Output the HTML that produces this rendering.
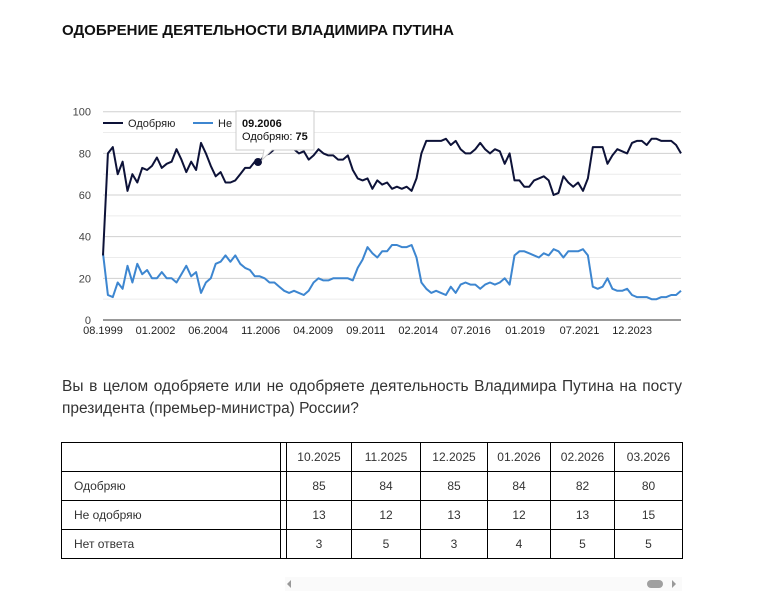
<!DOCTYPE html>
<html><head><meta charset="utf-8">
<style>
body{margin:0;background:#fff;width:766px;height:612px;overflow:hidden;font-family:"Liberation Sans",sans-serif;position:relative}
#title{position:absolute;left:62px;top:22px;font-size:15px;font-weight:bold;color:#111;letter-spacing:0}
#q{position:absolute;left:62px;top:376px;width:620px;font-size:15.5px;line-height:22px;color:#333;text-align:justify}
table{position:absolute;left:61px;top:442px;border-collapse:collapse;font-size:12px;color:#333}
td{border:1px solid #000;height:28px;padding:0;text-align:center}
td.l{text-align:left;padding-left:12px}
#sb{position:absolute;left:285px;top:577px;width:397px;height:14px;background:#fafafa}
</style></head><body>
<div id="title">ОДОБРЕНИЕ ДЕЯТЕЛЬНОСТИ ВЛАДИМИРА ПУТИНА</div>
<svg id="chart" width="766" height="360" style="position:absolute;left:0;top:0"></svg>
<div id="q">Вы в целом одобряете или не одобряете деятельность Владимира Путина на посту президента (премьер-министра) России?</div>
<table>
<tr><td class="l" style="width:206px"></td><td style="width:5px"></td><td style="width:64px">10.2025</td><td style="width:68px">11.2025</td><td style="width:66px">12.2025</td><td style="width:62px">01.2026</td><td style="width:63px">02.2026</td><td style="width:67px">03.2026</td></tr>
<tr><td class="l">Одобряю</td><td></td><td>85</td><td>84</td><td>85</td><td>84</td><td>82</td><td>80</td></tr>
<tr><td class="l">Не одобряю</td><td></td><td>13</td><td>12</td><td>13</td><td>12</td><td>13</td><td>15</td></tr>
<tr><td class="l">Нет ответа</td><td></td><td>3</td><td>5</td><td>3</td><td>4</td><td>5</td><td>5</td></tr>
</table>
<div id="sb">
<div style="position:absolute;left:2px;top:3px;width:0;height:0;border-top:4px solid transparent;border-bottom:4px solid transparent;border-right:4px solid #999"></div>
<div style="position:absolute;left:362px;top:3px;width:16px;height:8px;border-radius:4px;background:#a0a0a0"></div>
<div style="position:absolute;left:387px;top:3px;width:0;height:0;border-top:4px solid transparent;border-bottom:4px solid transparent;border-left:4px solid #999"></div>
</div>
<script>
const xTickLabels=["08.1999","01.2002","06.2004","11.2006","04.2009","09.2011","02.2014","07.2016","01.2019","07.2021","12.2023"];
const yTicks=[0,20,40,60,80,100];
const approve=[31,80,83,70,76,62,70,66,73,72,74,78,73,75,76,82,77,71,76,72,85,80,74,69,71,66,66,67,70,73,73,76,76,79,80,82,83,83,82,82,80,81,77,79,82,80,79,79,77,77,79,72,68,67,
68,63,67,65,66,63,64,63,64,62,68,80,86,86,86,86,87,84,86,82,80,80,82,85,82,80,82,81,75,80,67,67,64,64,67,68,69,67,60,61,69,66,64,66,62,68,83,83,83,75,79,82,81,80,85,86,86,84,87,87,86,86,86,84,80];
const disapprove=[32,12,11,18,15,26,18,27,22,24,20,20,23,20,20,18,22,26,21,23,13,18,20,27,28,31,28,31,27,25,24,21,21,20,18,18,16,14,13,14,13,12,14,18,20,19,19,20,20,20,20,19,25,29,
35,32,30,33,33,36,36,35,35,36,30,18,15,13,14,13,12,16,13,17,18,17,17,15,17,18,17,18,20,17,31,33,33,32,31,30,32,31,34,33,30,33,33,33,34,31,16,15,16,20,15,14,14,15,12,11,11,11,10,10,11,11,12,12,14];
const NS="http://www.w3.org/2000/svg";
const svg=document.getElementById('chart');
const X0=103,X1=681,Y0=320,Y1=111.7;
function yS(v){return Y0+(Y1-Y0)*v/100;}
function xS(i,n){return X0+(X1-X0)*i/(n-1);}
function mk(t,a){const e=document.createElementNS(NS,t);for(const k in a)e.setAttribute(k,a[k]);svg.appendChild(e);return e;}
for(let v=10;v<=100;v+=10){
 const g=mk('line',{x1:X0,x2:X1,y1:yS(v),y2:yS(v),stroke:v%20?'#ececec':'#d0d0d0','stroke-width':1});
 
 
}
yTicks.forEach(v=>{
 const t=mk('text',{x:91,y:yS(v)+4,'text-anchor':'end','font-size':11,fill:'#444','font-family':'Liberation Sans, sans-serif'});
 t.textContent=v;
 
 
});
const ax=mk('line',{x1:X0,x2:X1,y1:Y0,y2:Y0,stroke:'#333','stroke-width':1});


const totalMonths=319;
xTickLabels.forEach((s,i)=>{
 const p=s.split('.');const m=(+p[1]-1999)*12+(+p[0]-8);
 const t=mk('text',{x:X0+(X1-X0)*m/totalMonths,y:334,'text-anchor':'middle','font-size':11,fill:'#222','font-family':'Liberation Sans, sans-serif'});
 t.textContent=s;
 
 
});
function line(arr,col,name){
 const d=arr.map((v,i)=>(i?'L':'M')+xS(i,arr.length).toFixed(1)+' '+yS(v).toFixed(1)).join(' ');
 const p=mk('path',{d:d,fill:'none',stroke:col,'stroke-width':2,'stroke-linejoin':'round'});
 
 
}
line(disapprove,'#3d86d0','disapprove-line');
line(approve,'#0d1238','approve-line');
const lg=mk('rect',{x:100,y:115,width:135,height:16,fill:'#fff'});


const l1=mk('line',{x1:103,x2:123,y1:123,y2:123,stroke:'#0d1238','stroke-width':2});


const t1=mk('text',{x:128,y:127,'font-size':11,fill:'#222','font-family':'Liberation Sans, sans-serif'});t1.textContent='Одобряю';


const l2=mk('line',{x1:193,x2:213,y1:123,y2:123,stroke:'#3d86d0','stroke-width':2});


const t2=mk('text',{x:218,y:127,'font-size':11,fill:'#222','font-family':'Liberation Sans, sans-serif'});t2.textContent='Не одобряю';


const dot=mk('circle',{cx:258,cy:162,r:4,fill:'#0d1238'});


const tr=mk('path',{d:'M236 111 H314 V150 H272 L262 160 L264 150 H236 Z',fill:'#fff',stroke:'#ccc','stroke-width':1});


const tt1=mk('text',{x:242,y:127,'font-size':11,'font-weight':'bold',fill:'#111','font-family':'Liberation Sans, sans-serif'});tt1.textContent='09.2006';


const tt2=mk('text',{x:242,y:140,'font-size':11,fill:'#111','font-family':'Liberation Sans, sans-serif'});
tt2.innerHTML='Одобряю: <tspan font-weight="bold">75</tspan>';


</script>
</body></html>
